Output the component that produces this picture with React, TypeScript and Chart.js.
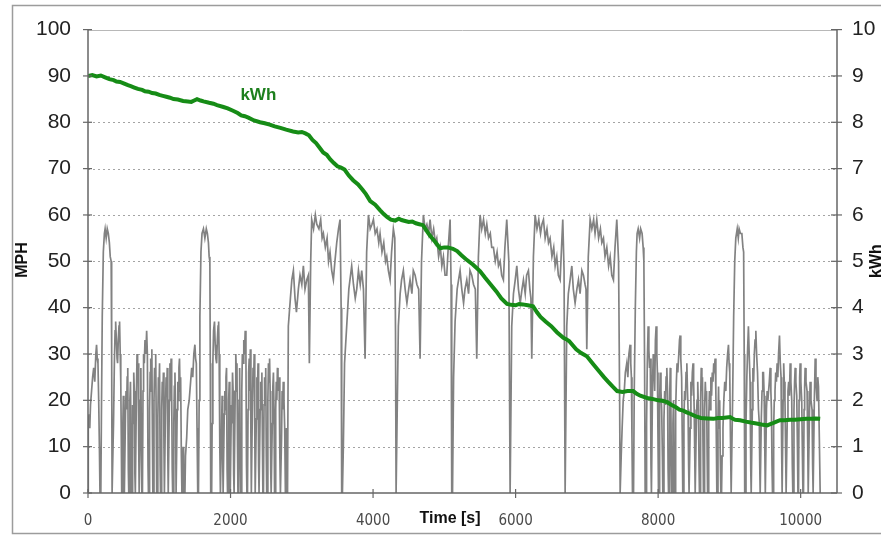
import React, { useEffect, useRef } from 'react';
import { Chart, registerables } from 'chart.js';
Chart.register(...registerables);

// ---- axes ----
const timeTicks = [0, 2000, 4000, 6000, 8000, 10000];
const mphTicks = [0, 10, 20, 30, 40, 50, 60, 70, 80, 90, 100];
const kwhTicks = [0, 1, 2, 3, 4, 5, 6, 7, 8, 9, 10];
const timeMax = 10510;
const kwhLabelAt: [number, number] = [2390, 8.58];

// ---- speed (MPH): [time s, mph] ----
const city1: [number, number][] = [
  [0, 0], [4, 15], [15, 17], [25, 14], [35, 19], [50, 22], [65, 25], [80, 27], [95, 24], [110, 30], [120, 32], [130, 29], [140, 28], [150, 20], [160, 10], [168, 0],
  [180, 0], [190, 20], [200, 38], [215, 52], [230, 56], [240, 57], [255, 55], [270, 57], [285, 56], [300, 54], [312, 51], [325, 50], [332, 30], [338, 0],
  [350, 0], [358, 15], [370, 28], [380, 35], [388, 37], [398, 33], [408, 29], [415, 28], [425, 33], [435, 36], [443, 37], [452, 30], [460, 24], [467, 12], [473, 0],
  [480, 0], [488, 14], [496, 21], [504, 8], [510, 0],
  [518, 0], [526, 17], [534, 22], [542, 18], [550, 25], [558, 27], [566, 5], [572, 0],
  [580, 0], [588, 20], [596, 24], [604, 12], [610, 0],
  [618, 0], [626, 19], [634, 15], [642, 26], [650, 22], [658, 4], [664, 0],
  [671, 0], [680, 22], [688, 30], [696, 26], [704, 28], [712, 10], [718, 0],
  [726, 0], [734, 20], [742, 27], [750, 8], [756, 0],
  [764, 0], [772, 22], [780, 30], [790, 28], [800, 33], [812, 30], [823, 35], [833, 30], [842, 6], [848, 0],
  [856, 0], [864, 18], [872, 26], [880, 29], [888, 22], [896, 31], [904, 12], [910, 0],
  [918, 0], [926, 20], [934, 27], [942, 24], [950, 30], [958, 14], [964, 0],
  [972, 0], [980, 16], [988, 25], [996, 22], [1004, 28], [1012, 6], [1018, 0],
  [1026, 0], [1034, 18], [1042, 24], [1050, 20], [1058, 26], [1066, 10], [1072, 0],
  [1080, 0], [1088, 19], [1096, 25], [1104, 21], [1112, 27], [1120, 8], [1126, 0],
  [1134, 0], [1142, 20], [1150, 28], [1158, 24], [1166, 29], [1174, 22], [1182, 5], [1188, 0],
  [1196, 0], [1204, 15], [1212, 23], [1220, 26], [1228, 18], [1236, 0],
  [1244, 0], [1252, 18], [1260, 24], [1268, 20], [1276, 27], [1284, 29], [1292, 22], [1300, 25], [1310, 8], [1318, 0],
  [1326, 0], [1334, 10], [1342, 0],
];
const city2: [number, number][] = [
  [1360, 0], [1368, 8], [1385, 12], [1400, 18], [1420, 20], [1440, 24], [1455, 27], [1470, 25], [1485, 30], [1500, 32], [1510, 29], [1520, 28], [1530, 14], [1540, 0],
  [1550, 0], [1560, 20], [1570, 38], [1585, 52], [1600, 56], [1620, 57], [1640, 55], [1660, 57], [1675, 56], [1690, 54], [1700, 51], [1710, 50], [1716, 28], [1722, 0],
  [1735, 0], [1742, 15], [1752, 28], [1762, 35], [1775, 37], [1785, 32], [1795, 29], [1805, 28], [1815, 33], [1825, 36], [1833, 37], [1840, 30], [1847, 22], [1852, 10], [1858, 0],
  [1866, 0], [1874, 14], [1882, 21], [1890, 8], [1896, 0],
  [1904, 0], [1912, 17], [1920, 22], [1928, 18], [1936, 25], [1944, 27], [1952, 5], [1958, 0],
  [1966, 0], [1974, 20], [1982, 24], [1990, 12], [1996, 0],
  [2004, 0], [2012, 19], [2020, 15], [2028, 26], [2036, 22], [2044, 4], [2050, 0],
  [2058, 0], [2066, 22], [2074, 30], [2082, 26], [2090, 28], [2098, 10], [2104, 0],
  [2112, 0], [2120, 20], [2128, 27], [2136, 8], [2142, 0],
  [2150, 0], [2158, 22], [2166, 30], [2176, 28], [2186, 33], [2196, 30], [2206, 35], [2216, 30], [2224, 6], [2230, 0],
  [2238, 0], [2246, 18], [2254, 26], [2262, 29], [2270, 22], [2278, 31], [2286, 12], [2292, 0],
  [2300, 0], [2308, 20], [2316, 27], [2324, 24], [2332, 30], [2340, 14], [2346, 0],
  [2354, 0], [2362, 16], [2370, 25], [2378, 22], [2386, 28], [2394, 6], [2400, 0],
  [2408, 0], [2416, 18], [2424, 24], [2432, 20], [2440, 26], [2448, 10], [2454, 0],
  [2462, 0], [2470, 19], [2478, 25], [2486, 21], [2494, 27], [2502, 8], [2508, 0],
  [2516, 0], [2524, 20], [2532, 28], [2540, 24], [2548, 29], [2556, 22], [2564, 5], [2570, 0],
  [2578, 0], [2586, 15], [2594, 23], [2602, 26], [2610, 18], [2618, 0],
  [2626, 0], [2634, 18], [2642, 24], [2650, 20], [2658, 27], [2666, 25], [2674, 22], [2682, 25], [2692, 8], [2700, 0],
  [2708, 0], [2716, 12], [2724, 22], [2732, 18], [2740, 24], [2750, 20], [2760, 14], [2770, 0], [2778, 0], [2785, 14], [2792, 0],
];
const highway: [number, number][] = [
  [2800, 0], [2811, 36], [2840, 42], [2860, 46], [2882, 48], [2905, 42], [2925, 39], [2952, 44], [2975, 47], [3000, 45],
  [3022, 49], [3045, 44], [3070, 46], [3092, 47], [3106, 28], [3125, 50], [3139, 59], [3165, 57], [3190, 60], [3210, 58],
  [3240, 57], [3265, 59], [3285, 55], [3303, 56], [3330, 53], [3355, 55], [3375, 50], [3396, 52], [3420, 48], [3443, 46],
  [3465, 50], [3490, 54], [3515, 57], [3537, 59], [3552, 40], [3560, 0],
  [3570, 0], [3583, 10], [3600, 28], [3630, 36], [3660, 44], [3700, 49], [3725, 45], [3750, 42], [3771, 44], [3795, 48],
  [3820, 45], [3841, 48], [3865, 44], [3888, 29], [3910, 52], [3935, 60], [3960, 57], [3985, 58], [4005, 59], [4030, 56],
  [4055, 57], [4080, 54], [4098, 56], [4125, 52], [4150, 54], [4175, 50], [4192, 51], [4215, 48], [4239, 46], [4260, 52],
  [4285, 57], [4305, 55], [4315, 35], [4323, 0],
  [4335, 0], [4355, 36], [4380, 43], [4400, 46], [4425, 48], [4450, 44], [4475, 41], [4500, 44], [4519, 46], [4545, 43],
  [4565, 48], [4590, 47], [4615, 45], [4640, 44], [4660, 29], [4680, 50], [4706, 60], [4730, 57], [4755, 58], [4780, 56],
  [4800, 59], [4825, 55], [4850, 57], [4875, 54], [4894, 55], [4920, 51], [4945, 53], [4965, 49], [4987, 51], [5010, 47],
  [5034, 47], [5055, 53], [5081, 59], [5095, 45], [5104, 0],
  [5115, 0], [5130, 25], [5151, 37], [5180, 44], [5200, 46], [5221, 48], [5245, 44], [5270, 41], [5290, 44], [5315, 46],
  [5340, 43], [5360, 48], [5385, 47], [5410, 45], [5435, 44], [5455, 29], [5478, 51], [5502, 60], [5525, 57], [5550, 59],
  [5575, 56], [5596, 58], [5620, 55], [5645, 56], [5665, 53], [5689, 53], [5715, 50], [5740, 52], [5760, 49], [5783, 50],
  [5805, 47], [5829, 46], [5850, 53], [5876, 59], [5905, 50], [5923, 0],
  [5935, 0], [5946, 36], [5970, 43], [5995, 46], [6017, 49], [6040, 44], [6065, 41], [6090, 44], [6110, 46], [6135, 43],
  [6155, 47], [6180, 48], [6200, 44], [6215, 42], [6227, 29], [6250, 51], [6274, 60], [6300, 57], [6325, 59], [6350, 56],
  [6370, 58], [6391, 59], [6415, 55], [6440, 57], [6462, 54], [6484, 55], [6510, 51], [6535, 53], [6555, 49], [6578, 51],
  [6600, 47], [6625, 46], [6645, 53], [6662, 59], [6680, 48], [6695, 0],
  [6705, 0], [6718, 36], [6740, 43], [6765, 46], [6789, 49], [6810, 44], [6835, 41], [6860, 44], [6882, 46], [6905, 43],
  [6930, 48], [6952, 47], [6975, 45], [6988, 44], [6999, 31], [7020, 51], [7046, 59], [7070, 57], [7095, 59], [7115, 56],
  [7139, 59], [7165, 55], [7190, 57], [7210, 54], [7233, 55], [7255, 51], [7280, 53], [7305, 49], [7327, 51], [7350, 47],
  [7373, 46], [7395, 53], [7420, 59], [7445, 50], [7460, 20], [7467, 0],
];
const city3: [number, number][] = [
  [7475, 0], [7482, 8], [7495, 14], [7510, 20], [7525, 22], [7540, 26], [7560, 28], [7575, 25], [7590, 30], [7607, 32], [7616, 28], [7625, 25], [7633, 12], [7640, 0],
  [7655, 0], [7665, 22], [7680, 40], [7695, 52], [7705, 56], [7720, 57], [7740, 55], [7755, 57], [7775, 56], [7790, 53], [7800, 50], [7810, 28], [7818, 0],
  [7830, 0], [7838, 15], [7848, 28], [7860, 36], [7870, 31], [7880, 27], [7890, 29], [7900, 6], [7906, 0],
  [7914, 0], [7922, 24], [7932, 30], [7942, 26], [7952, 22], [7962, 33], [7972, 36], [7982, 30], [7990, 26], [7998, 12], [8005, 0],
  [8013, 0], [8021, 20], [8030, 26], [8040, 22], [8050, 18], [8060, 8], [8066, 0],
  [8074, 0], [8082, 16], [8092, 22], [8102, 19], [8112, 25], [8122, 27], [8132, 22], [8140, 5], [8146, 0],
  [8154, 0], [8162, 20], [8170, 27], [8178, 21], [8186, 6], [8192, 0],
  [8200, 0], [8208, 15], [8216, 20], [8224, 8], [8230, 0],
  [8238, 0], [8246, 18], [8256, 24], [8266, 28], [8276, 26], [8290, 30], [8300, 33], [8309, 34], [8318, 29], [8330, 25], [8340, 10], [8346, 0],
  [8354, 0], [8362, 16], [8372, 22], [8382, 20], [8392, 26], [8403, 28], [8412, 22], [8420, 18], [8428, 6], [8434, 0],
  [8442, 0], [8450, 14], [8460, 24], [8470, 21], [8480, 26], [8490, 28], [8498, 24], [8506, 18], [8514, 8], [8520, 0],
  [8528, 0], [8536, 15], [8546, 20], [8556, 24], [8566, 18], [8574, 6], [8580, 0],
  [8588, 0], [8596, 20], [8605, 27], [8614, 22], [8622, 25], [8630, 10], [8636, 0],
  [8644, 0], [8652, 18], [8662, 24], [8672, 20], [8680, 22], [8688, 8], [8694, 0],
  [8702, 0], [8710, 16], [8720, 22], [8730, 18], [8740, 25], [8750, 21], [8760, 26], [8770, 24], [8780, 28], [8790, 27], [8800, 29], [8810, 22], [8818, 10], [8824, 0],
  [8832, 0], [8840, 16], [8848, 23], [8856, 14], [8864, 20], [8872, 8], [8880, 0],
];
const city4: [number, number][] = [
  [8890, 0], [8898, 8], [8910, 14], [8922, 20], [8935, 24], [8950, 22], [8962, 27], [8975, 30], [8987, 32], [8996, 28], [9005, 26], [9015, 12], [9025, 0],
  [9035, 0], [9045, 20], [9060, 38], [9075, 50], [9090, 55], [9110, 57], [9125, 55], [9137, 57], [9155, 56], [9175, 56], [9190, 53], [9200, 52], [9208, 30], [9215, 0],
  [9225, 0], [9233, 15], [9245, 25], [9256, 31], [9267, 36], [9278, 30], [9290, 24], [9300, 5], [9306, 0],
  [9314, 0], [9322, 18], [9330, 27], [9340, 24], [9350, 30], [9360, 33], [9371, 35], [9382, 30], [9395, 26], [9408, 18], [9420, 15], [9426, 6], [9432, 0],
  [9440, 0], [9448, 16], [9458, 22], [9468, 26], [9478, 26], [9488, 21], [9498, 8], [9504, 0],
  [9512, 0], [9520, 18], [9530, 22], [9540, 20], [9550, 22], [9560, 24], [9572, 27], [9582, 22], [9590, 18], [9598, 6], [9605, 0],
  [9613, 0], [9621, 14], [9630, 20], [9640, 22], [9650, 26], [9660, 24], [9670, 28], [9680, 25], [9690, 30], [9703, 34], [9714, 28], [9725, 25], [9733, 10], [9740, 0],
  [9748, 0], [9754, 20], [9762, 28], [9770, 24], [9780, 20], [9790, 8], [9796, 0],
  [9804, 0], [9812, 16], [9822, 22], [9832, 24], [9842, 21], [9853, 28], [9863, 24], [9875, 20], [9883, 6], [9890, 0],
  [9898, 0], [9906, 18], [9915, 24], [9923, 27], [9933, 24], [9945, 21], [9955, 10], [9962, 0],
  [9970, 0], [9978, 20], [9986, 25], [9993, 28], [10003, 24], [10015, 20], [10025, 8], [10032, 0],
  [10040, 0], [10048, 18], [10056, 23], [10063, 27], [10075, 24], [10090, 22], [10100, 10], [10106, 0],
  [10114, 0], [10122, 16], [10133, 24], [10145, 20], [10160, 18], [10168, 6], [10175, 0],
  [10183, 0], [10192, 20], [10204, 29], [10215, 24], [10230, 20], [10240, 25], [10250, 23], [10262, 12], [10274, 0],
];

// ---- battery energy (kWh): [time s, kWh] ----
const kwh: [number, number][] = [
  [0, 9.0], [60, 9.02], [120, 8.99], [180, 9.01], [240, 8.97], [300, 8.93], [360, 8.91], [400, 8.88], [450, 8.87], [500, 8.84],
  [560, 8.8], [600, 8.78], [650, 8.75], [700, 8.72], [760, 8.7], [800, 8.67], [850, 8.66], [900, 8.63], [950, 8.62],
  [1000, 8.59], [1050, 8.57], [1100, 8.55], [1150, 8.53], [1200, 8.5], [1260, 8.49], [1335, 8.46], [1400, 8.45],
  [1450, 8.44], [1490, 8.47], [1530, 8.5], [1580, 8.47], [1620, 8.45], [1700, 8.42], [1760, 8.4], [1810, 8.37],
  [1900, 8.33], [1960, 8.3], [2035, 8.25], [2100, 8.2], [2150, 8.15], [2200, 8.13], [2250, 8.1], [2330, 8.04],
  [2414, 8.0], [2480, 7.98], [2550, 7.95], [2620, 7.91], [2700, 7.88], [2780, 7.84], [2877, 7.8], [2950, 7.78],
  [3000, 7.79], [3050, 7.76], [3100, 7.72], [3150, 7.62], [3200, 7.55], [3250, 7.45], [3300, 7.35], [3350, 7.3],
  [3400, 7.2], [3450, 7.12], [3500, 7.05], [3550, 7.02], [3600, 6.98], [3660, 6.85], [3720, 6.75], [3790, 6.66],
  [3850, 6.55], [3900, 6.45], [3960, 6.3], [4030, 6.22], [4100, 6.1], [4150, 6.02], [4200, 5.95], [4250, 5.9],
  [4310, 5.88], [4360, 5.92], [4400, 5.89], [4450, 5.87], [4500, 5.85], [4550, 5.86], [4600, 5.82], [4650, 5.8],
  [4700, 5.78], [4750, 5.66], [4800, 5.55], [4870, 5.42], [4940, 5.28], [5000, 5.3], [5050, 5.3], [5120, 5.27],
  [5180, 5.22], [5240, 5.13], [5300, 5.05], [5400, 4.93], [5500, 4.79], [5570, 4.65], [5650, 4.5], [5730, 4.35],
  [5800, 4.2], [5880, 4.08], [5940, 4.06], [6000, 4.05], [6050, 4.08], [6100, 4.07], [6170, 4.05], [6245, 4.03],
  [6300, 3.9], [6350, 3.8], [6420, 3.7], [6500, 3.6], [6580, 3.47], [6670, 3.35], [6710, 3.32], [6750, 3.28],
  [6850, 3.1], [6920, 3.02], [7000, 2.95], [7090, 2.78], [7186, 2.6], [7240, 2.5], [7300, 2.4], [7360, 2.3],
  [7425, 2.2], [7500, 2.18], [7570, 2.2], [7650, 2.2], [7700, 2.14], [7750, 2.1], [7845, 2.05], [7920, 2.03],
  [8000, 2.0], [8060, 1.99], [8126, 1.96], [8190, 1.9], [8250, 1.85], [8300, 1.8], [8350, 1.78], [8400, 1.74],
  [8450, 1.71], [8520, 1.66], [8600, 1.62], [8690, 1.61], [8775, 1.6], [8840, 1.62], [8900, 1.62], [8960, 1.63],
  [9010, 1.64], [9050, 1.6], [9080, 1.58], [9150, 1.57], [9230, 1.54], [9300, 1.52], [9380, 1.5], [9450, 1.48],
  [9530, 1.46], [9600, 1.5], [9660, 1.54], [9710, 1.57], [9780, 1.57], [9850, 1.58], [9920, 1.58], [10000, 1.59],
  [10080, 1.6], [10150, 1.6], [10210, 1.61], [10274, 1.6],
];

const speedSeries = [...city1, ...city2, ...highway, ...city3, ...city4];

const decor = {
  id: 'decor',
  beforeDatasetsDraw(chart: any) {
    const { ctx, chartArea: a, scales } = chart;
    const y = scales.y;
    ctx.save();
    ctx.strokeStyle = '#9c9c9c';
    ctx.lineWidth = 1.5;
    ctx.strokeRect(12.5, 5.5, 900, 528);
    ctx.lineWidth = 1;
    ctx.strokeStyle = '#a4a4a4';
    ctx.setLineDash([2, 3]);
    for (const v of mphTicks) {
      if (v <= 0 || v >= 100) continue;
      const py = Math.round(y.getPixelForValue(v)) + 0.5;
      ctx.beginPath();
      ctx.moveTo(a.left, py);
      ctx.lineTo(a.right, py);
      ctx.stroke();
    }
    ctx.setLineDash([]);
    const pt = Math.round(y.getPixelForValue(100)) + 0.5;
    ctx.strokeStyle = '#b8b8b8';
    ctx.beginPath();
    ctx.moveTo(a.left, pt);
    ctx.lineTo(a.right, pt);
    ctx.stroke();
    ctx.restore();
  },
  afterDatasetsDraw(chart: any) {
    const { ctx, chartArea: a, scales } = chart;
    const { x, y, y1 } = scales;
    ctx.save();
    ctx.strokeStyle = '#666';
    ctx.lineWidth = 1.5;
    const line = (x0: number, y0: number, xx: number, yy: number) => {
      ctx.beginPath();
      ctx.moveTo(x0, y0);
      ctx.lineTo(xx, yy);
      ctx.stroke();
    };
    line(a.left, a.top, a.left, a.bottom);
    line(a.right, a.top, a.right, a.bottom);
    line(a.left, a.bottom, a.right, a.bottom);
    ctx.lineWidth = 1.2;
    for (const v of mphTicks) {
      const py = y.getPixelForValue(v);
      line(a.left - 5, py, a.left + 4, py);
    }
    for (const v of kwhTicks) {
      const py = y1.getPixelForValue(v);
      line(a.right - 6, py, a.right + 5, py);
    }
    for (const v of timeTicks) {
      const px = x.getPixelForValue(v);
      line(px, a.bottom - 4, px, a.bottom + 5);
    }
    ctx.fillStyle = '#111';
    ctx.textAlign = 'center';
    ctx.textBaseline = 'middle';
    ctx.font = 'bold 16px "Liberation Sans", Arial, sans-serif';
    ctx.fillText('Time [s]', 450, 519);
    ctx.save();
    ctx.translate(23, 260);
    ctx.rotate(-Math.PI / 2);
    ctx.fillText('MPH', 0, 0);
    ctx.restore();
    ctx.save();
    ctx.translate(877, 261);
    ctx.rotate(-Math.PI / 2);
    ctx.fillText('kWh', 0, 0);
    ctx.restore();
    ctx.fillStyle = '#1d7f1d';
    ctx.font = 'bold 17px "Liberation Sans", Arial, sans-serif';
    ctx.fillText('kWh', x.getPixelForValue(kwhLabelAt[0]), y1.getPixelForValue(kwhLabelAt[1]));
    ctx.restore();
  },
};

export default function App() {
  const ref = useRef<HTMLCanvasElement>(null);
  useEffect(() => {
    const chart = new Chart(ref.current as HTMLCanvasElement, {
      type: 'line',
      data: {
        datasets: [
          {
            label: 'kWh',
            data: kwh.map(([t, v]) => ({ x: t, y: v })),
            yAxisID: 'y1',
            borderColor: '#168c16',
            borderWidth: 4,
            pointRadius: 0,
            tension: 0,
          },
          {
            label: 'MPH',
            data: speedSeries.map(([t, v]) => ({ x: t, y: v })),
            yAxisID: 'y',
            borderColor: '#828282',
            borderWidth: 1.7,
            pointRadius: 0,
            tension: 0,
          },
        ],
      },
      options: {
        animation: false,
        responsive: false,
        devicePixelRatio: 1,
        layout: { padding: { top: 27, left: 0, right: 0, bottom: 0 } },
        plugins: { legend: { display: false }, tooltip: { enabled: false } },
        scales: {
          x: {
            type: 'linear',
            min: 0,
            max: timeMax,
            afterBuildTicks: (s: any) => { s.ticks = timeTicks.map((v) => ({ value: v })); },
            afterFit: (s: any) => { s.height = 42; },
            grid: { display: false, drawTicks: false },
            border: { display: false },
            ticks: {
              autoSkip: false,
              maxRotation: 0,
              padding: 19,
              color: '#4a4a4a',
              callback: (v: any) => String(v),
              font: { family: '"Liberation Sans Narrow", "DejaVu Sans Condensed", "Liberation Sans", sans-serif', size: 15 },
            },
          },
          y: {
            type: 'linear',
            position: 'left',
            min: 0,
            max: 100,
            afterBuildTicks: (s: any) => { s.ticks = mphTicks.map((v) => ({ value: v })); },
            afterFit: (s: any) => { s.width = 88; },
            grid: { display: false, drawTicks: false },
            border: { display: false },
            ticks: { padding: 17, color: '#222', font: { family: '"Liberation Sans", Arial, sans-serif', size: 21 } },
          },
          y1: {
            type: 'linear',
            position: 'right',
            min: 0,
            max: 10,
            afterBuildTicks: (s: any) => { s.ticks = kwhTicks.map((v) => ({ value: v })); },
            afterFit: (s: any) => { s.width = 44; },
            grid: { display: false, drawTicks: false },
            border: { display: false },
            ticks: { padding: 15, color: '#222', font: { family: '"Liberation Sans", Arial, sans-serif', size: 21 } },
          },
        },
      },
      plugins: [decor],
    } as any);
    return () => chart.destroy();
  }, []);
  return (
    <div style={{ position: 'absolute', left: 0, top: 0, width: 881, height: 535, background: '#fff' }}>
      <canvas ref={ref} width={881} height={535} style={{ display: 'block' }} />
    </div>
  );
}
